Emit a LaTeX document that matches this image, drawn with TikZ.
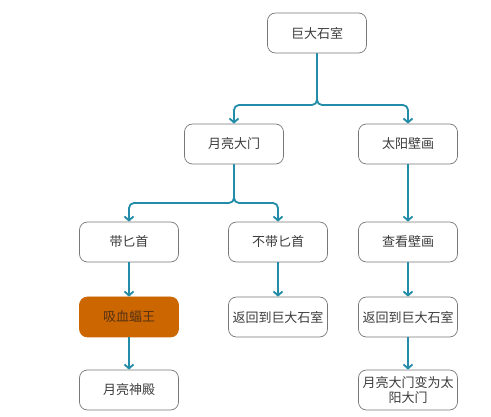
\documentclass[tikz,border=0pt]{standalone}
\usepackage{fontspec}
\setmainfont{Noto Sans CJK SC}
\usetikzlibrary{arrows.meta}
\definecolor{conncol}{RGB}{35,140,168}
\definecolor{boxgray}{RGB}{120,120,120}
\definecolor{textgray}{RGB}{60,60,60}
\definecolor{orangefill}{RGB}{204,102,0}
\definecolor{orangetext}{RGB}{85,50,20}
\begin{document}
\begin{tikzpicture}[x=1pt,y=-1pt,
  box/.style={draw=boxgray, rounded corners=8pt, minimum width=99pt, minimum height=40pt,
    inner sep=0pt, font=\fontsize{13}{15}\selectfont, text=textgray, line width=0.7pt, fill=white,
    align=center},
  hot/.style={box, fill=orangefill, draw=orangefill, text=orangetext},
  link/.style={draw=conncol, line width=1.8pt, rounded corners=5pt,
    -{Straight Barb[length=4pt,width=9pt]}}]
\useasboundingbox (0,0) rectangle (491,417);
\node[box] (n1) at (317,33) {巨大石室};
\node[box] (n2) at (234,144) {月亮大门};
\node[box] (n3) at (408,144) {太阳壁画};
\node[box] (n4) at (129,242) {带匕首};
\node[box] (n5) at (278,242) {不带匕首};
\node[box] (n6) at (408,242) {查看壁画};
\node[hot] (n7) at (129,317) {吸血蝠王};
\node[box] (n8) at (278,317) {返回到巨大石室};
\node[box] (n9) at (408,317) {返回到巨大石室};
\node[box] (n10) at (129,390) {月亮神殿};
\node[box] (n11) at (408,390) {月亮大门变为太\\阳大门};
\coordinate (j1) at (317,105);
\coordinate (j2) at (234,203);
\draw[link] (n1.south) -- (j1) -| (n2.north);
\draw[link] (n1.south) -- (j1) -| (n3.north);
\draw[link] (n2.south) -- (j2) -| (n4.north);
\draw[link] (n2.south) -- (j2) -| (n5.north);
\draw[link] (n3.south) -- (n6.north);
\draw[link] (n4.south) -- (n7.north);
\draw[link] (n5.south) -- (n8.north);
\draw[link] (n6.south) -- (n9.north);
\draw[link] (n7.south) -- (n10.north);
\draw[link] (n9.south) -- (n11.north);
\end{tikzpicture}
\end{document}
